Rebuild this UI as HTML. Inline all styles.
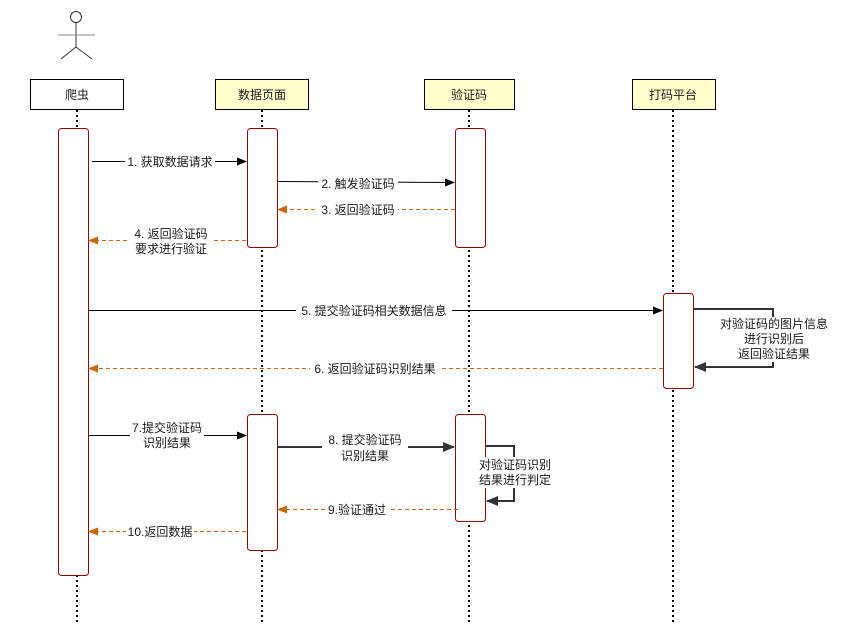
<!DOCTYPE html>
<html><head><meta charset="utf-8"><style>
html,body{margin:0;padding:0;background:#fff;}
text{font-family:"Liberation Sans","Noto Sans CJK SC",sans-serif;font-size:12px;fill:#1a1a1a;}
</style></head><body>
<svg width="859" height="622" viewBox="0 0 859 622" xmlns="http://www.w3.org/2000/svg">
<defs>
<marker id="ab" markerWidth="10" markerHeight="8" refX="9" refY="4" orient="auto" markerUnits="userSpaceOnUse"><path d="M0,0 L10,4 L0,8 Z" fill="#000"/></marker>
<marker id="ao" markerWidth="10" markerHeight="8" refX="9" refY="4" orient="auto" markerUnits="userSpaceOnUse"><path d="M0,0 L10,4 L0,8 Z" fill="#cc6600"/></marker>
<marker id="ag" markerWidth="12" markerHeight="10" refX="11" refY="5" orient="auto" markerUnits="userSpaceOnUse"><path d="M0,0 L12,5 L0,10 Z" fill="#333"/></marker>
</defs>
<!-- actor -->
<g stroke="#333" stroke-width="1" fill="none">
<circle cx="76" cy="17" r="5.5" fill="#fff"/>
<line x1="76" y1="22" x2="76" y2="47"/>
<line x1="58" y1="35" x2="95" y2="35" stroke="#888"/>
<line x1="76" y1="47" x2="61" y2="59"/>
<line x1="76" y1="47" x2="92" y2="59"/>
</g>
<!-- lifelines -->
<g stroke="#000" stroke-width="2" stroke-dasharray="2,3">
<line x1="77" y1="110" x2="77" y2="622"/>
<line x1="262" y1="110" x2="262" y2="622"/>
<line x1="469" y1="110" x2="469" y2="622"/>
<line x1="673" y1="110" x2="673" y2="622"/>
</g>
<!-- headers -->
<rect x="30.5" y="79.5" width="93" height="30" fill="#fff" stroke="#000"/>
<rect x="215.5" y="79.5" width="93" height="30" fill="#ffffcc" stroke="#000"/>
<rect x="424.5" y="79.5" width="90" height="30" fill="#ffffcc" stroke="#000"/>
<rect x="632.5" y="79.5" width="83" height="30" fill="#ffffcc" stroke="#000"/>
<text x="77" y="99" text-anchor="middle">爬虫</text>
<text x="262" y="99" text-anchor="middle">数据页面</text>
<text x="469" y="99" text-anchor="middle">验证码</text>
<text x="673" y="99" text-anchor="middle">打码平台</text>
<!-- activations -->
<g fill="#fff" stroke="#990000" stroke-width="1">
<rect x="58.5" y="128.5" width="30" height="447" rx="3"/>
<rect x="247.5" y="128.5" width="30" height="119" rx="3"/>
<rect x="455.5" y="128.5" width="30" height="119" rx="3"/>
<rect x="247.5" y="414.5" width="30" height="136" rx="3"/>
<rect x="455.5" y="414.5" width="30" height="107" rx="3"/>
<rect x="663.5" y="293.5" width="30" height="95" rx="3"/>
</g>
<!-- messages -->
<g stroke-width="1" fill="none">
<line x1="92" y1="161.5" x2="246" y2="161.5" stroke="#000" marker-end="url(#ab)"/>
<line x1="278" y1="181.5" x2="454" y2="182.5" stroke="#000" marker-end="url(#ab)"/>
<line x1="455" y1="209.5" x2="278" y2="209.5" stroke="#cc6600" stroke-dasharray="4,3" marker-end="url(#ao)"/>
<line x1="246" y1="240.5" x2="89" y2="240.5" stroke="#cc6600" stroke-dasharray="4,3" marker-end="url(#ao)"/>
<line x1="89" y1="310.5" x2="662" y2="310.5" stroke="#000" marker-end="url(#ab)"/>
<line x1="663" y1="368.5" x2="89" y2="368.5" stroke="#cc6600" stroke-dasharray="4,3" marker-end="url(#ao)"/>
<line x1="89" y1="435.5" x2="246" y2="435.5" stroke="#000" marker-end="url(#ab)"/>
<line x1="278" y1="447" x2="454" y2="447" stroke="#333" stroke-width="2" marker-end="url(#ag)"/>
<line x1="458" y1="509.5" x2="278" y2="509.5" stroke="#cc6600" stroke-dasharray="4,3" marker-end="url(#ao)"/>
<line x1="246" y1="531.5" x2="89" y2="531.5" stroke="#cc6600" stroke-dasharray="4,3" marker-end="url(#ao)"/>
<polyline points="694,309 773,309 773,367 695,367" stroke="#333" stroke-width="2" marker-end="url(#ag)"/>
<polyline points="486,446 514,446 514,501 487,501" stroke="#333" stroke-width="2" marker-end="url(#ag)"/>
</g>
<!-- labels -->
<g>
<rect x="125" y="154" width="90" height="14" fill="#fff"/>
<text x="170" y="166" text-anchor="middle">1. 获取数据请求</text>
<rect x="318" y="176" width="80" height="14" fill="#fff"/>
<text x="358" y="188" text-anchor="middle">2. 触发验证码</text>
<rect x="318" y="202" width="80" height="14" fill="#fff"/>
<text x="358" y="214" text-anchor="middle">3. 返回验证码</text>
<rect x="130" y="226" width="82" height="30" fill="#fff"/>
<text x="171" y="238" text-anchor="middle">4. 返回验证码</text>
<text x="171" y="253" text-anchor="middle">要求进行验证</text>
<rect x="296" y="303" width="156" height="14" fill="#fff"/>
<text x="374" y="315" text-anchor="middle">5. 提交验证码相关数据信息</text>
<rect x="310" y="361" width="130" height="14" fill="#fff"/>
<text x="375" y="373" text-anchor="middle">6. 返回验证码识别结果</text>
<rect x="130" y="420" width="74" height="30" fill="#fff"/>
<text x="167" y="432" text-anchor="middle">7.提交验证码</text>
<text x="167" y="447" text-anchor="middle">识别结果</text>
<rect x="322" y="432" width="86" height="32" fill="#fff"/>
<text x="365" y="444" text-anchor="middle">8. 提交验证码</text>
<text x="365" y="460" text-anchor="middle">识别结果</text>
<rect x="326" y="502" width="62" height="14" fill="#fff"/>
<text x="357" y="514" text-anchor="middle">9.验证通过</text>
<rect x="126" y="524" width="68" height="14" fill="#fff"/>
<text x="160" y="536" text-anchor="middle">10.返回数据</text>
<rect x="714" y="317" width="120" height="45" fill="#fff"/>
<text x="774" y="328" text-anchor="middle">对验证码的图片信息</text>
<text x="774" y="343" text-anchor="middle">进行识别后</text>
<text x="774" y="358" text-anchor="middle">返回验证结果</text>
<rect x="474" y="457" width="82" height="31" fill="#fff"/>
<text x="515" y="469" text-anchor="middle">对验证码识别</text>
<text x="515" y="484" text-anchor="middle">结果进行判定</text>
</g>
</svg>
</body></html>
